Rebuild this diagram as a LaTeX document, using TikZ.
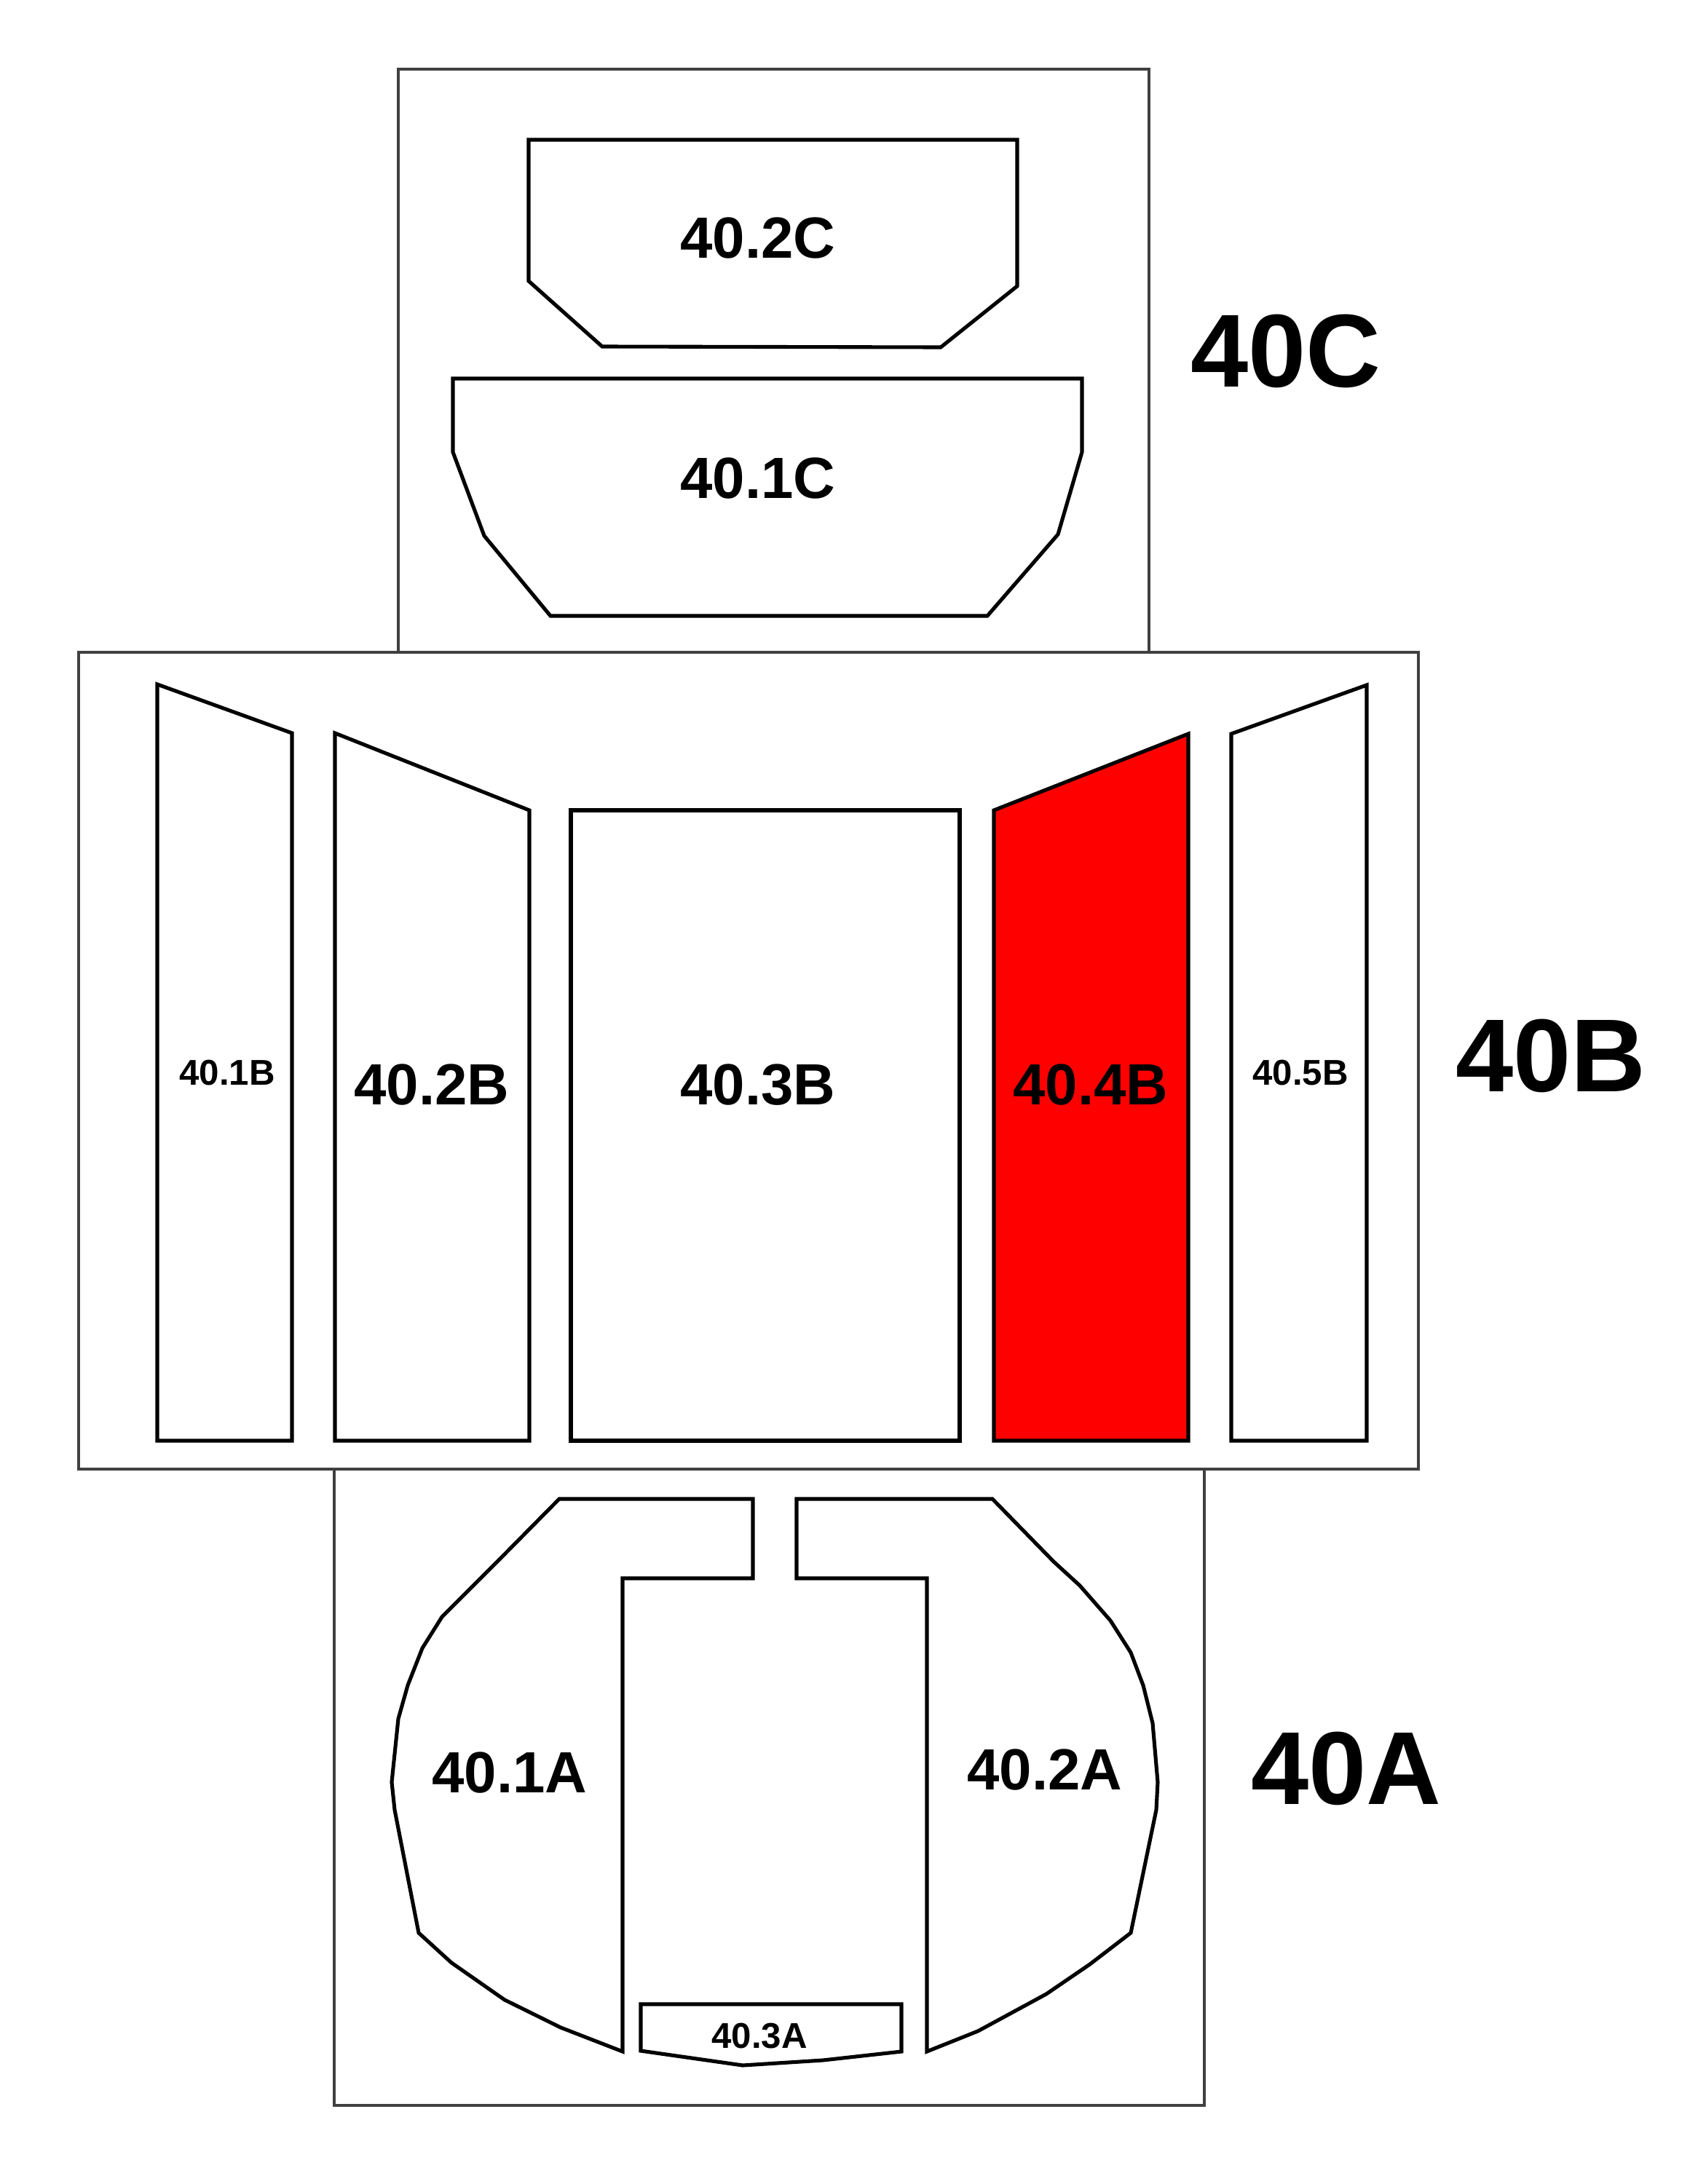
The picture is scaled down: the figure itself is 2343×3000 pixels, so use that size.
\documentclass[tikz,border=0pt]{standalone}
\usepackage{fontspec}
\setmainfont{Liberation Sans}
\usetikzlibrary{positioning}
\begin{document}
\begin{tikzpicture}[x={(0.01cm,0)}, y={(0,-0.01cm)},
  myframe/.style = {draw=black!75, line width=1.15pt},
  mypiece/.style = {draw=black, line width=1.45pt, line join=miter, fill=white},
  mylabel/.style = {font=\fontsize{22.7}{25}\selectfont\bfseries, inner sep=0pt},
  mysmall/.style = {font=\fontsize{14}{16}\selectfont\bfseries, inner sep=0pt},
  mybig/.style = {font=\fontsize{40.5}{44}\selectfont\bfseries, inner sep=0pt}]
\useasboundingbox (0,0) rectangle (2343,3000);
\fill[white] (0,0) rectangle (2343,3000);
\draw[myframe] (547,95) rectangle (1578,896);
\draw[myframe] (108,896) rectangle (1948,2018);
\draw[myframe] (459,2018) rectangle (1654,2892);
\draw[mypiece] (726,192) -- (1397,192) -- (1397,393) -- (1292,477) -- (827,476) -- (726,386) -- cycle;
\draw[mypiece] (622,520) -- (1486,520) -- (1486,621) -- (1453,734) -- (1356,846) -- (756,846) -- (665,736) -- (622,621) -- cycle;
\draw[mypiece] (216,940) -- (401,1007) -- (401,1979) -- (216,1979) -- cycle;
\draw[mypiece] (460,1007) -- (727,1113) -- (727,1979) -- (460,1979) -- cycle;
\draw[mypiece] (784,1113) rectangle (1318,1979);
\draw[mypiece, fill=red] (1365,1113) -- (1632,1008) -- (1632,1979) -- (1365,1979) -- cycle;
\draw[mypiece] (1691,1008) -- (1877,941) -- (1877,1979) -- (1691,1979) -- cycle;
\draw[mypiece] (1034,2059) -- (1034,2168) -- (855,2168) -- (855,2818) -- (770,2785) -- (693,2747) -- (620,2696) -- (575,2655) -- (542,2486) -- (538,2448) -- (547,2361) -- (560,2315) -- (580,2264) -- (607,2221) -- (683,2145) -- (768,2059) -- cycle;
\draw[mypiece] (1094,2059) -- (1094,2168) -- (1273,2168) -- (1273,2818) -- (1343,2790) -- (1437,2739) -- (1497,2698) -- (1553,2655) -- (1588,2486) -- (1590,2448) -- (1583,2367) -- (1570,2315) -- (1553,2270) -- (1525,2226) -- (1483,2178) -- (1447,2145) -- (1363,2059) -- cycle;
\draw[mypiece] (880,2753) -- (1238,2753) -- (1238,2818) -- (1130,2830) -- (1020,2837) -- (880,2817) -- cycle;
\foreach \n/\x/\y/\t in {c2/1041/327/40.2C, c1/1041/657/40.1C, b2/593/1490/40.2B, b3/1041/1490/40.3B, b4/1498/1490/40.4B, a1/700/2435/40.1A, a2/1435/2431/40.2A}
    \node[mylabel] (\n) at (\x,\y) {\t};
\foreach \n/\x/\y/\t in {b1/312/1474/40.1B, b5/1786/1474/40.5B, a3/1043/2797/40.3A}
    \node[mysmall] (\n) at (\x,\y) {\t};
\node[mybig] (lblC) at (1766,482) {40C};
\node[mybig] (lblB) at (2130,1450) {40B};
\node[mybig] (lblA) at (1849,2429) {40A};
\end{tikzpicture}
\end{document}
